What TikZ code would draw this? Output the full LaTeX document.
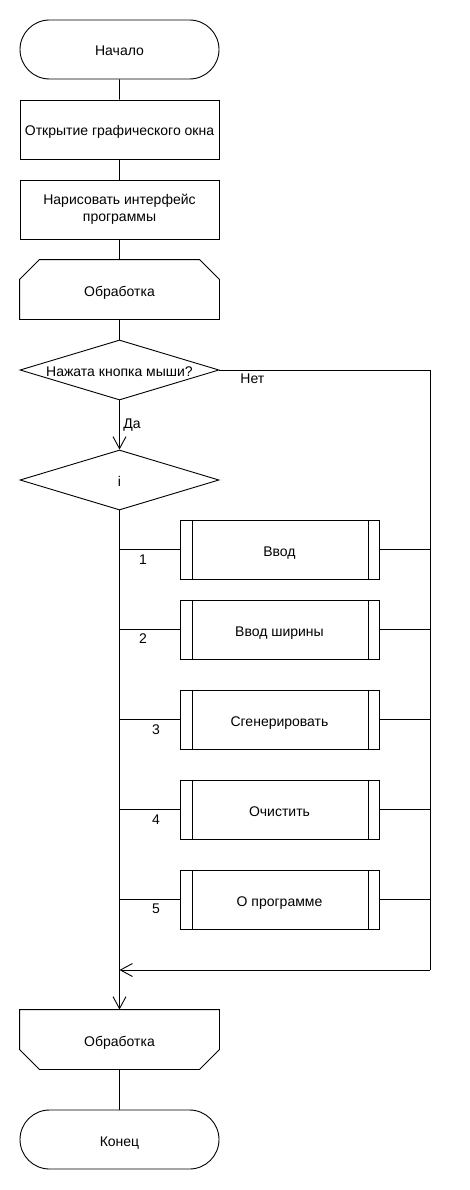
\documentclass[tikz,border=0pt]{standalone}
\usepackage{fontspec}
\setmainfont{Liberation Sans}
\usetikzlibrary{shapes.geometric,shapes.misc,arrows.meta}

\begin{document}
\begin{tikzpicture}[x=1pt,y=1pt,line width=0.9pt,font=\fontsize{14}{17}\selectfont]
\tikzstyle{every node}+=[inner sep=0pt]
\tikzstyle{one}=[text height=13pt, text depth=0pt]
\tikzstyle{term}=[draw, one, rounded rectangle, minimum width=199pt, minimum height=59pt]
\tikzstyle{proc}=[draw, rectangle, align=center, minimum width=199pt, minimum height=59pt]
\tikzstyle{loopbox}=[one, rectangle, minimum width=199pt, minimum height=59pt]
\tikzstyle{decide}=[draw, one, diamond, shape aspect=3.3, minimum width=199pt, minimum height=60pt]
\tikzstyle{subproc}=[draw, one, rectangle, minimum width=199pt, minimum height=59pt,
  path picture={\draw ([xshift=12pt]path picture bounding box.north west) -- ([xshift=12pt]path picture bounding box.south west);
    \draw ([xshift=-11pt]path picture bounding box.north east) -- ([xshift=-11pt]path picture bounding box.south east);}]
\tikzstyle{arr}=[-{Straight Barb[length=12pt,width=13pt,line width=0.9pt]}]
\useasboundingbox (0,0) rectangle (470,-1190);
\node [term] (start) at (119.5,-49.5) {Начало};
\node [proc, one] (open) at (119.5,-129.5) {Открытие графического окна};
\node [proc] (iface) at (119.5,-209.5) {Нарисовать интерфейс\\программы};
\node [loopbox] (loopA) at (119.5,-289.5) {Обработка};
\draw (loopA.south west) -- ([yshift=-20pt]loopA.north west) -- ([xshift=20pt]loopA.north west) -- ([xshift=-20pt]loopA.north east) -- ([yshift=-20pt]loopA.north east) -- (loopA.south east) -- cycle;
\node [decide] (click) at (119.5,-370) {Нажата кнопка мыши?};
\node [decide] (sel) at (119.5,-480) {i};
\node [subproc] (p1) at (279.5,-549.5) {Ввод};
\node [subproc] (p2) at (279.5,-629.5) {Ввод ширины};
\node [subproc] (p3) at (279.5,-719.5) {Сгенерировать};
\node [subproc] (p4) at (279.5,-809.5) {Очистить};
\node [subproc] (p5) at (279.5,-899.5) {О программе};
\node [loopbox] (loopB) at (119.5,-1039.5) {Обработка};
\draw (loopB.north west) -- ([yshift=20pt]loopB.south west) -- ([xshift=20pt]loopB.south west) -- ([xshift=-20pt]loopB.south east) -- ([yshift=20pt]loopB.south east) -- (loopB.north east) -- cycle;
\node [term] (stop) at (119.5,-1139.5) {Конец};
\coordinate (noTop) at (430,-370);
\coordinate (noBot) at (430,-970);
\coordinate (join) at (119.5,-970);
\draw (start) -- (open);
\draw (open) -- (iface);
\draw (iface) -- (loopA);
\draw (loopA) -- (click);
\draw [arr] (click) -- (sel);
\node [anchor=west] (yes) at (123,-425) {Да};
\draw (click.east) -- (noTop) -- (noBot);
\draw [arr] (noBot) -- (join);
\node [anchor=west] (no) at (240,-379) {Нет};
\draw [arr] (sel) -- (loopB);
\draw (loopB) -- (stop);
\draw (sel.south |- p1.west) -- (p1.west);
\draw (p1.east) -- (noTop |- p1.east);
\node (n1) at (143,-559.5) {1};
\draw (sel.south |- p2.west) -- (p2.west);
\draw (p2.east) -- (noTop |- p2.east);
\node (n2) at (143,-639) {2};
\draw (sel.south |- p3.west) -- (p3.west);
\draw (p3.east) -- (noTop |- p3.east);
\node (n3) at (156,-729.5) {3};
\draw (sel.south |- p4.west) -- (p4.west);
\draw (p4.east) -- (noTop |- p4.east);
\node (n4) at (156,-819.5) {4};
\draw (sel.south |- p5.west) -- (p5.west);
\draw (p5.east) -- (noTop |- p5.east);
\node (n5) at (156,-909) {5};
\end{tikzpicture}
\end{document}
